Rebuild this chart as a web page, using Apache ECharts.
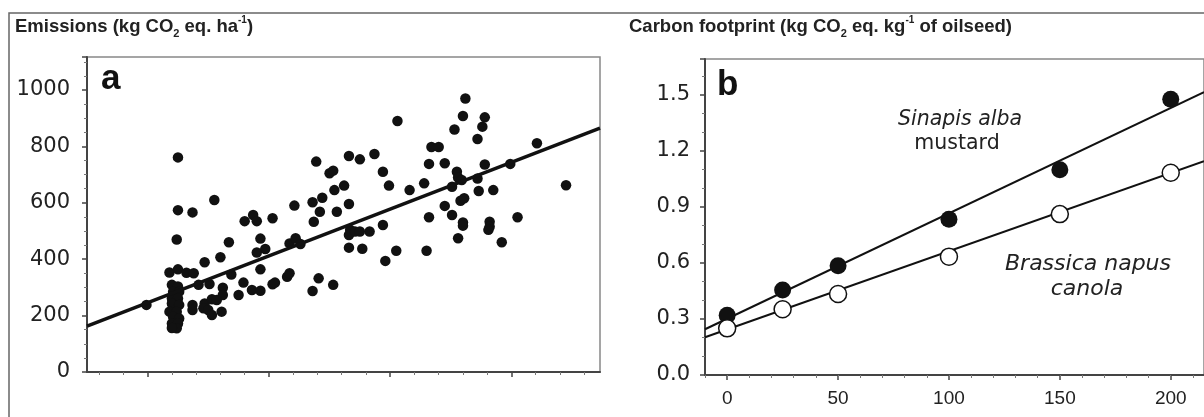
<!DOCTYPE html>
<html><head><meta charset="utf-8">
<script src="https://cdn.jsdelivr.net/npm/echarts@6/dist/echarts.min.js"></script>
<style>html,body{margin:0;padding:0;background:#fff}#c{width:1204px;height:417px}</style>
</head><body><div id="c"></div>
<script>
// Panel a: emissions scatter (x in arbitrary units, no labels on axis)
const scatterX = [1.25,2.39,2.50,2.53,2.54,1.55,1.25,1.37,2.21,2.36,2.44,2.42,2.56,1.80,1.87,1.90,2.03,2.37,1.24,1.67,1.93,2.17,2.22,2.26,1.97,1.90,
  1.60,1.47,1.18,1.25,1.32,1.38,1.69,1.93,2.15,2.17,1.79,2.03,2.05,2.41,2.53,2.36,1.86,1.93,1.75,1.62,1.62,1.37,1.37,1.47,1.46,1.50,1.53,1.57,1.53,1.61,1.42,1.51,0.99,
  1.20,1.25,1.21,1.26,1.20,1.25,1.20,1.26,1.18,1.24,1.21,1.26,1.20,1.25,1.24,1.20,
  3.62,3.60,3.78,3.76,3.72,3.53,3.06,4.21,3.34,3.40,2.66,2.75,2.87,2.94,3.32,3.45,3.55,3.56,3.59,3.78,3.99,3.72,2.62,2.99,3.16,3.28,3.51,3.73,3.85,4.45,
  2.66,3.45,3.58,3.61,3.51,3.32,4.05,3.60,3.60,3.82,3.82,3.81,3.56,3.92,2.67,2.66,2.71,2.75,2.83,2.94,2.66,2.77,3.05,3.30,2.96];
const scatterY = [761,746,705,714,645,610,574,566,590,602,618,568,568,535,557,535,545,533,470,460,473,456,474,454,436,424,
  407,389,353,364,352,350,346,364,338,350,317,311,317,332,309,287,291,288,273,299,273,238,220,243,226,220,258,255,202,214,309,312,238,
  309,303,285,285,261,261,243,238,214,214,196,190,172,172,155,156,
  970,908,903,870,826,860,890,811,798,798,766,754,773,710,738,740,710,690,681,736,738,686,661,661,645,669,657,642,645,662,
  596,589,607,616,557,549,549,530,519,533,515,504,474,460,504,486,498,498,498,521,441,437,430,430,394];
const fitAX = [0.5, 4.73];
const fitAY = [163, 865];
const xMajorA = [1, 2, 3, 4];
const xMinorA = [0.6,0.8,1.2,1.4,1.6,1.8,2.2,2.4,2.6,2.8,3.2,3.4,3.6,3.8,4.2,4.4,4.6];

// Panel b: carbon footprint
const doseX = [0, 25, 50, 100, 150, 200];
const mustardY = [0.32, 0.455, 0.585, 0.835, 1.10, 1.477];
const canolaY = [0.25, 0.352, 0.434, 0.634, 0.862, 1.084];
const mustardFitX = [-10, 215];
const mustardFitY = [0.245, 1.516];
const canolaFitX = [-10, 215];
const canolaFitY = [0.202, 1.145];
const xTicksB = [0, 50, 100, 150, 200];

const pairs = (xs, ys) => xs.map((x, i) => [x, ys[i]]);
const ink = '#111', axisCol = '#444', txt = '#222';
const yLabFont = {fontFamily: 'DejaVu Sans', fontSize: 21, color: txt};
const titleRich = {
  b: {fontFamily: 'Liberation Sans', fontWeight: 'bold', fontSize: 18.5, fill: txt, lineHeight: 24, verticalAlign: 'middle'},
  s: {fontFamily: 'Liberation Sans', fontWeight: 'bold', fontSize: 11, fill: txt, lineHeight: 24, verticalAlign: 'bottom'},
  p: {fontFamily: 'Liberation Sans', fontWeight: 'bold', fontSize: 10, fill: txt, lineHeight: 24, verticalAlign: 'top'}
};

const chart = echarts.init(document.getElementById('c'), null, {renderer: 'canvas'});
chart.setOption({
  animation: false,
  backgroundColor: '#fff',
  grid: [
    {left: 87, right: 604, top: 57, bottom: 45, show: true, borderColor: '#888', borderWidth: 1.5},
    {left: 705, right: -15, top: 59, bottom: 42, show: true, borderColor: '#888', borderWidth: 1.5}
  ],
  xAxis: [
    {gridIndex: 0, type: 'value', min: 0.5, max: 4.73, position: 'bottom',
     axisLine: {onZero: false, lineStyle: {color: axisCol, width: 2}}, splitLine: {show: false},
     axisTick: {show: true, customValues: xMajorA, length: 5, lineStyle: {color: axisCol, width: 1.5}},
     axisLabel: {show: false}},
    {gridIndex: 0, type: 'value', min: 0.5, max: 4.73, position: 'bottom',
     axisLine: {show: false, onZero: false}, splitLine: {show: false},
     axisTick: {show: true, customValues: xMinorA, length: 3, lineStyle: {color: '#777', width: 1}},
     axisLabel: {show: false}},
    {gridIndex: 1, type: 'value', min: -10, max: 215, position: 'bottom',
     axisLine: {onZero: false, lineStyle: {color: axisCol, width: 2}}, splitLine: {show: false},
     axisTick: {show: true, customValues: xTicksB, length: 5, lineStyle: {color: axisCol, width: 1.5}},
     axisLabel: {show: true, customValues: xTicksB, margin: 14, fontFamily: 'Liberation Sans', fontSize: 19, color: txt}},
    {gridIndex: 1, type: 'value', min: -10, max: 215, interval: 10, position: 'bottom',
     axisLine: {show: false, onZero: false}, splitLine: {show: false},
     axisTick: {show: true, length: 3, lineStyle: {color: '#777', width: 1}},
     axisLabel: {show: false}}
  ],
  yAxis: [
    {gridIndex: 0, type: 'value', min: 0, max: 1117, interval: 200,
     axisLine: {show: true, onZero: false, lineStyle: {color: axisCol, width: 2}}, splitLine: {show: false},
     axisTick: {show: true, length: 5, lineStyle: {color: axisCol, width: 1.5}},
     minorTick: {show: true, splitNumber: 4, length: 3, lineStyle: {color: '#777', width: 1}},
     axisLabel: Object.assign({margin: 17, showMaxLabel: false, formatter: v => String(v)}, yLabFont)},
    {gridIndex: 1, type: 'value', min: 0, max: 1.693, interval: 0.3,
     axisLine: {show: true, onZero: false, lineStyle: {color: axisCol, width: 2}}, splitLine: {show: false},
     axisTick: {show: true, length: 5, lineStyle: {color: axisCol, width: 1.5}},
     minorTick: {show: true, splitNumber: 3, length: 3, lineStyle: {color: '#777', width: 1}},
     axisLabel: Object.assign({margin: 15, showMaxLabel: false, formatter: v => v.toFixed(1)}, yLabFont)}
  ],
  series: [
    {type: 'scatter', xAxisIndex: 0, yAxisIndex: 0, data: pairs(scatterX, scatterY),
     symbol: 'circle', symbolSize: 10.5, itemStyle: {color: ink, opacity: 1}, z: 3},
    {type: 'line', xAxisIndex: 0, yAxisIndex: 0, data: pairs(fitAX, fitAY), showSymbol: false,
     lineStyle: {color: ink, width: 3.5}, z: 4},
    {type: 'line', xAxisIndex: 2, yAxisIndex: 1, data: pairs(mustardFitX, mustardFitY), showSymbol: false,
     lineStyle: {color: ink, width: 2}, z: 2},
    {type: 'line', xAxisIndex: 2, yAxisIndex: 1, data: pairs(canolaFitX, canolaFitY), showSymbol: false,
     lineStyle: {color: ink, width: 2}, z: 2},
    {type: 'scatter', xAxisIndex: 2, yAxisIndex: 1, data: pairs(doseX, mustardY),
     symbol: 'circle', symbolSize: 17, itemStyle: {color: ink, opacity: 1}, z: 5},
    {type: 'scatter', xAxisIndex: 2, yAxisIndex: 1, data: pairs(doseX, canolaY),
     symbol: 'circle', symbolSize: 17, itemStyle: {color: '#fff', borderColor: ink, borderWidth: 1.5, opacity: 1}, z: 5}
  ],
  graphic: [
    {type: 'polyline', shape: {points: [[9, 417], [9, 13], [1204, 13]]}, style: {stroke: '#666', lineWidth: 1.5, fill: null}, silent: true},
    {type: 'text', x: 15, y: 27, style: {text: '{b|Emissions (kg CO}{s|2}{b| eq. ha}{p|-1}{b|)}', verticalAlign: 'middle', rich: titleRich}},
    {type: 'text', x: 629, y: 27, style: {text: '{b|Carbon footprint (kg CO}{s|2}{b| eq. kg}{p|-1}{b| of oilseed)}', verticalAlign: 'middle', rich: titleRich}},
    {type: 'text', x: 101, y: 79, style: {text: 'a', font: 'bold 35px "Liberation Sans"', fill: ink, verticalAlign: 'middle'}},
    {type: 'text', x: 717, y: 85, style: {text: 'b', font: 'bold 35px "Liberation Sans"', fill: ink, verticalAlign: 'middle'}},
    {type: 'text', x: 960, y: 120, style: {text: 'Sinapis alba', font: 'italic 20.5px "DejaVu Sans"', fill: txt, align: 'center', verticalAlign: 'middle'}},
    {type: 'text', x: 957, y: 144, style: {text: 'mustard', font: '20.5px "DejaVu Sans"', fill: txt, align: 'center', verticalAlign: 'middle'}},
    {type: 'text', x: 1088, y: 264, style: {text: 'Brassica napus', font: 'italic 22px "DejaVu Sans"', fill: txt, align: 'center', verticalAlign: 'middle'}},
    {type: 'text', x: 1087, y: 289, style: {text: 'canola', font: 'italic 22px "DejaVu Sans"', fill: txt, align: 'center', verticalAlign: 'middle'}}
  ]
});
</script></body></html>
